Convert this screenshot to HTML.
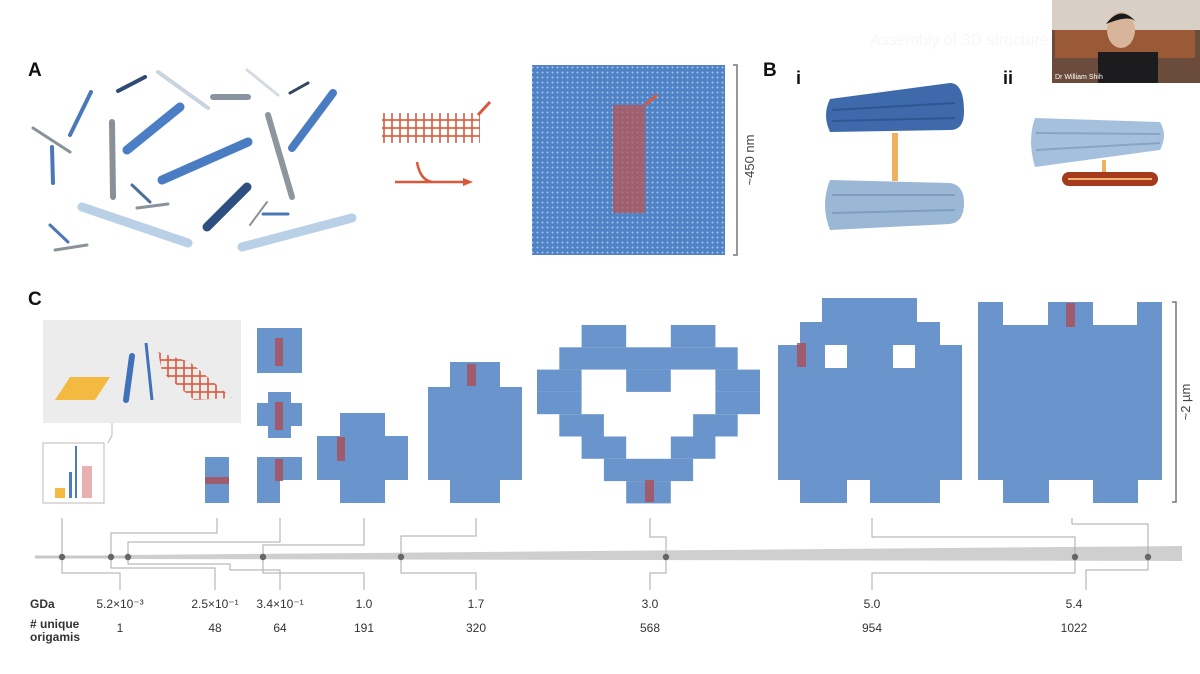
<!DOCTYPE html>
<html><head><meta charset="utf-8"><style>
html,body{margin:0;padding:0;background:#fff;}
svg{display:block;font-family:"Liberation Sans",Arial,sans-serif;}
</style></head><body>
<svg width="1200" height="674" viewBox="0 0 1200 674" xmlns="http://www.w3.org/2000/svg">
<defs>
<pattern id="dots" width="5" height="5" patternUnits="userSpaceOnUse">
<rect width="5" height="5" fill="#4f83c6"/><circle cx="2.5" cy="2.5" r="1" fill="#a9c4ea"/>
</pattern>
<pattern id="rgrid" width="8" height="8" patternUnits="userSpaceOnUse">
<rect width="8" height="8" fill="none" stroke="#d9583a" stroke-width="1.6"/>
</pattern>
</defs>
<rect width="1200" height="674" fill="#fff"/>
<text x="870" y="45" font-size="16" fill="#f7f7f7">Assembly of 3D structures</text>

<!-- Panel A -->
<text x="28" y="76" font-size="19" font-weight="bold" fill="#111">A</text>
<g stroke-linecap="round">
<line x1="91" y1="92" x2="70" y2="135" stroke="#4a78b8" stroke-width="4"/>
<line x1="118" y1="91" x2="145" y2="77" stroke="#2f4a75" stroke-width="4"/>
<line x1="158" y1="72" x2="208" y2="108" stroke="#c9d4de" stroke-width="4"/>
<line x1="213" y1="97" x2="248" y2="97" stroke="#8a94a0" stroke-width="6"/>
<line x1="247" y1="70" x2="278" y2="95" stroke="#d4dbe2" stroke-width="3"/>
<line x1="290" y1="93" x2="308" y2="83" stroke="#34445e" stroke-width="3"/>
<line x1="333" y1="93" x2="292" y2="148" stroke="#4a7cc2" stroke-width="8"/>
<line x1="33" y1="128" x2="70" y2="152" stroke="#8a929a" stroke-width="3"/>
<line x1="52" y1="147" x2="53" y2="183" stroke="#4a78b8" stroke-width="4"/>
<line x1="112" y1="122" x2="113" y2="197" stroke="#8a9098" stroke-width="6"/>
<line x1="180" y1="107" x2="127" y2="150" stroke="#4b7ec4" stroke-width="9"/>
<line x1="268" y1="115" x2="292" y2="197" stroke="#8d959d" stroke-width="6"/>
<line x1="248" y1="142" x2="162" y2="180" stroke="#4a7cc2" stroke-width="9"/>
<line x1="132" y1="185" x2="150" y2="202" stroke="#4f6f98" stroke-width="3"/>
<line x1="137" y1="208" x2="168" y2="204" stroke="#8a929a" stroke-width="3"/>
<line x1="247" y1="187" x2="207" y2="227" stroke="#2f4f80" stroke-width="9"/>
<line x1="267" y1="202" x2="250" y2="225" stroke="#8a929a" stroke-width="2"/>
<line x1="263" y1="214" x2="288" y2="214" stroke="#4a78b8" stroke-width="3"/>
<line x1="82" y1="207" x2="188" y2="243" stroke="#b9d0e6" stroke-width="9"/>
<line x1="242" y1="247" x2="352" y2="218" stroke="#b9d0e6" stroke-width="9"/>
<line x1="50" y1="225" x2="68" y2="242" stroke="#4a78b8" stroke-width="3"/>
<line x1="55" y1="250" x2="87" y2="245" stroke="#8a929a" stroke-width="3"/>
</g>
<rect x="382" y="113" width="98" height="30" fill="url(#rgrid)"/>
<line x1="478" y1="115" x2="490" y2="102" stroke="#d9583a" stroke-width="3"/>
<line x1="395" y1="182" x2="465" y2="182" stroke="#d9583a" stroke-width="2.5"/>
<path d="M417 162 Q420 180 432 182" fill="none" stroke="#d9583a" stroke-width="2.5"/>
<polygon points="463,178 473,182 463,186" fill="#d9583a"/>

<rect x="532" y="65" width="193" height="190" fill="url(#dots)"/>
<rect x="613" y="105" width="32" height="108" fill="#c0504a" opacity="0.7"/>
<line x1="645" y1="105" x2="657" y2="95" stroke="#d9583a" stroke-width="3"/>
<path d="M733 65 H737 V255 H733" fill="none" stroke="#777" stroke-width="1.5"/>
<text transform="translate(754,160) rotate(-90)" text-anchor="middle" font-size="13" fill="#444">~450 nm</text>

<!-- Panel B -->
<text x="763" y="76" font-size="19" font-weight="bold" fill="#111">B</text>
<text x="796" y="84" font-size="18" font-weight="bold" fill="#111">i</text>
<text x="1003" y="84" font-size="18" font-weight="bold" fill="#111">ii</text>
<g>
<path d="M830 99 L950 83 Q964 83 964 112 Q964 130 950 130 L830 132 Q822 115 830 99Z" fill="#3e6aab"/>
<line x1="832" y1="110" x2="955" y2="103" stroke="#2f5690" stroke-width="2"/>
<line x1="832" y1="121" x2="955" y2="118" stroke="#2f5690" stroke-width="2"/>
<rect x="892" y="133" width="6" height="48" fill="#f0b060"/>
<path d="M830 180 L950 183 Q964 185 964 203 Q964 222 950 224 L830 230 Q820 205 830 180Z" fill="#9ab7d6"/>
<line x1="832" y1="195" x2="955" y2="195" stroke="#7e9dbf" stroke-width="2"/>
<line x1="832" y1="213" x2="955" y2="210" stroke="#7e9dbf" stroke-width="2"/>
<path d="M1035 118 L1160 122 Q1168 135 1160 150 L1035 167 Q1027 140 1035 118Z" fill="#a5c0dd"/>
<line x1="1036" y1="133" x2="1160" y2="134" stroke="#86a4c4" stroke-width="2"/>
<line x1="1036" y1="150" x2="1160" y2="143" stroke="#86a4c4" stroke-width="2"/>
<rect x="1102" y="160" width="4" height="16" fill="#f0b060"/>
<rect x="1062" y="172" width="96" height="14" rx="7" fill="#a63a1c"/>
<line x1="1068" y1="179" x2="1152" y2="179" stroke="#f4b070" stroke-width="2"/>
</g>

<!-- video -->
<rect x="1052" y="0" width="148" height="83" fill="#6b4c3c"/>
<rect x="1052" y="0" width="148" height="30" fill="#d8d0c4"/>
<rect x="1055" y="30" width="140" height="28" fill="#9a5a38"/>
<rect x="1098" y="52" width="60" height="31" fill="#1c1c1e"/>
<ellipse cx="1121" cy="30" rx="14" ry="18" fill="#d8b49a"/>
<path d="M1106 24 Q1121 4 1136 22 Q1130 14 1106 24Z" fill="#1a1a1a"/>
<text x="1055" y="79" font-size="7" fill="#fff">Dr William Shih</text>

<!-- Panel C -->
<text x="28" y="305" font-size="19" font-weight="bold" fill="#111">C</text>
<rect x="43" y="320" width="198" height="103" fill="#ececec"/>
<polygon points="55,400 70,377 110,377 95,400" fill="#f3b940"/>
<line x1="132" y1="356" x2="126" y2="400" stroke="#3f72b8" stroke-width="6" stroke-linecap="round"/>
<line x1="146" y1="343" x2="152" y2="400" stroke="#3f72b8" stroke-width="3"/>
<polygon points="158,352 190,362 232,398 194,400 162,372" fill="url(#rgrid)"/>
<path d="M112 423 V435 L108 443" fill="none" stroke="#bbb" stroke-width="1"/>
<rect x="43" y="443" width="61" height="60" fill="#fff" stroke="#bbb" stroke-width="1"/>
<rect x="55" y="488" width="10" height="10" fill="#f3b940"/>
<rect x="69" y="472" width="3" height="26" fill="#4a7cc2"/>
<rect x="75" y="446" width="2" height="52" fill="#4a7cc2"/>
<rect x="82" y="466" width="10" height="32" fill="#e8b0b0"/>

<g fill="#6a95cc">
<rect x="205" y="457" width="24" height="46"/>
<rect x="257" y="328" width="45" height="45"/>
<rect x="257" y="403" width="45" height="23"/><rect x="268" y="392" width="23" height="46"/>
<path d="M257 457 H302 V480 H280 V503 H257Z"/>
<rect x="317" y="436" width="91" height="44"/><rect x="340" y="413" width="45" height="90"/>
<rect x="450" y="362" width="50" height="141"/><rect x="428" y="387" width="94" height="93"/>
<g transform="translate(537,325)">
<rect x="44.6" y="0" width="44.6" height="22.3"/><rect x="133.8" y="0" width="44.6" height="22.3"/>
<rect x="22.3" y="22.3" width="178.4" height="22.3"/>
<rect x="0" y="44.6" width="44.6" height="22.3"/><rect x="89.2" y="44.6" width="44.6" height="22.3"/><rect x="178.4" y="44.6" width="44.6" height="22.3"/>
<rect x="0" y="66.9" width="44.6" height="22.3"/><rect x="178.4" y="66.9" width="44.6" height="22.3"/>
<rect x="22.3" y="89.2" width="44.6" height="22.3"/><rect x="156.1" y="89.2" width="44.6" height="22.3"/>
<rect x="44.6" y="111.5" width="44.6" height="22.3"/><rect x="133.8" y="111.5" width="44.6" height="22.3"/>
<rect x="66.9" y="133.8" width="89.2" height="22.3"/>
<rect x="89.2" y="156.1" width="44.6" height="22.3"/>
</g>
<rect x="822" y="298" width="95" height="24"/>
<rect x="800" y="322" width="140" height="24"/>
<rect x="778" y="345" width="184" height="135"/>
<rect x="800" y="480" width="47" height="23"/><rect x="870" y="480" width="70" height="23"/>
<rect x="978" y="302" width="25" height="24"/><rect x="1048" y="302" width="45" height="24"/><rect x="1137" y="302" width="25" height="24"/>
<rect x="978" y="325" width="184" height="155"/>
<rect x="1003" y="480" width="46" height="23"/><rect x="1093" y="480" width="45" height="23"/>
</g>
<rect x="825" y="345" width="22" height="23" fill="#fff"/><rect x="893" y="345" width="22" height="23" fill="#fff"/>
<g fill="#a8525e" opacity="0.85">
<rect x="205" y="477" width="24" height="7"/>
<rect x="275" y="338" width="8" height="28"/>
<rect x="275" y="402" width="8" height="28"/>
<rect x="275" y="459" width="8" height="22"/>
<rect x="337" y="437" width="8" height="24"/>
<rect x="467" y="364" width="9" height="22"/>
<rect x="645" y="480" width="9" height="22"/>
<rect x="797" y="343" width="9" height="24"/>
<rect x="1066" y="303" width="9" height="24"/>
</g>
<path d="M1172 302 H1176 V502 H1172" fill="none" stroke="#777" stroke-width="1.5"/>
<text transform="translate(1190,402) rotate(-90)" text-anchor="middle" font-size="13" fill="#444">~2 µm</text>

<line x1="35" y1="557" x2="130" y2="557" stroke="#c8c8c8" stroke-width="3"/>
<polygon points="128,555 1182,546 1182,561 128,559" fill="#cfcfcf"/>
<g fill="none" stroke="#aaa" stroke-width="1">
<path d="M62 518 V532 H62 V557"/>
<path d="M217 518 V533 H111 V557"/>
<path d="M280 518 V542 H128 V557"/>
<path d="M364 518 V545 H263 V557"/>
<path d="M476 518 V536 H401 V557"/>
<path d="M650 518 V537 H666 V557"/>
<path d="M872 518 V537 H1075 V557"/>
<path d="M1072 518 V524 H1148 V557"/>
<path d="M62 557 V573 H120 V590"/>
<path d="M111 557 V568 H215 V590"/>
<path d="M128 557 V564 H230 V570 H280 V590"/>
<path d="M263 557 V573 H364 V590"/>
<path d="M401 557 V573 H476 V590"/>
<path d="M666 557 V573 H650 V590"/>
<path d="M1075 557 V573 H872 V590"/>
<path d="M1148 557 V570 H1086 V590"/>
</g>
<g fill="#666">
<circle cx="62" cy="557" r="3.2"/><circle cx="111" cy="557" r="3.2"/><circle cx="128" cy="557" r="3.2"/>
<circle cx="263" cy="557" r="3.2"/><circle cx="401" cy="557" r="3.2"/><circle cx="666" cy="557" r="3.2"/>
<circle cx="1075" cy="557" r="3.2"/><circle cx="1148" cy="557" r="3.2"/>
</g>
<g font-size="12" fill="#333" text-anchor="middle">
<text x="30" y="608" text-anchor="start" font-weight="bold">GDa</text>
<text x="120" y="608">5.2×10⁻³</text><text x="215" y="608">2.5×10⁻¹</text><text x="280" y="608">3.4×10⁻¹</text>
<text x="364" y="608">1.0</text><text x="476" y="608">1.7</text><text x="650" y="608">3.0</text>
<text x="872" y="608">5.0</text><text x="1074" y="608">5.4</text>
<text x="30" y="628" text-anchor="start" font-weight="bold"># unique</text>
<text x="30" y="641" text-anchor="start" font-weight="bold">origamis</text>
<text x="120" y="632">1</text><text x="215" y="632">48</text><text x="280" y="632">64</text>
<text x="364" y="632">191</text><text x="476" y="632">320</text><text x="650" y="632">568</text>
<text x="872" y="632">954</text><text x="1074" y="632">1022</text>
</g>
</svg>
</body></html>
